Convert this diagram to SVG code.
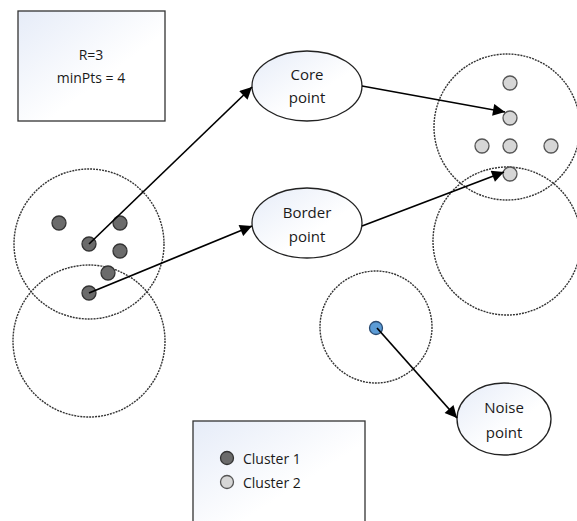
<svg xmlns="http://www.w3.org/2000/svg" width="577" height="521" viewBox="0 0 577 521">
<defs>
<linearGradient id="g" x1="0" y1="0" x2="1" y2="1">
<stop offset="0" stop-color="#e6ecf8"/>
<stop offset="0.6" stop-color="#ffffff"/>
</linearGradient>
<marker id="ah" viewBox="0 0 10 10" refX="10" refY="5" markerWidth="13" markerHeight="12" markerUnits="userSpaceOnUse" orient="auto">
<path d="M0,0 L10,5 L0,10 z" fill="#000"/>
</marker>
</defs>
<style>
.box{fill:url(#g);stroke:#333;stroke-width:1.3}
.ell{fill:url(#g);stroke:#222;stroke-width:1.3}
.rad{fill:none;stroke:#333;stroke-width:1.4;stroke-dasharray:2 1}
.d1{fill:#6b6b6b;stroke:#333;stroke-width:1.3}
.d2{fill:#d6d6d6;stroke:#555;stroke-width:1.3}
.t{font-family:"Open Sans","Liberation Sans",sans-serif;font-size:14px;fill:#1a1a1a;text-anchor:middle}
.te{font-family:"Open Sans","Liberation Sans",sans-serif;font-size:15px;fill:#1a1a1a;text-anchor:middle}
.tl{font-family:"Open Sans","Liberation Sans",sans-serif;font-size:14px;fill:#1a1a1a}
.c{stroke:#000;stroke-width:1.7;fill:none;marker-end:url(#ah)}
</style>
<rect width="577" height="521" fill="#fff"/>
<g id="params">
<rect class="box" x="18" y="11" width="147" height="110"/>
<text class="t" x="91" y="60">R=3</text>
<text class="t" x="91" y="83">minPts = 4</text>
</g>
<g id="radii">
<circle class="rad" cx="89" cy="244" r="75"/>
<circle class="rad" cx="89" cy="341" r="76"/>
<circle class="rad" cx="507" cy="127" r="73"/>
<circle class="rad" cx="507" cy="241" r="74"/>
<circle class="rad" cx="376" cy="327" r="56"/>
</g>
<g id="cluster1">
<circle class="d1" cx="59" cy="223" r="7"/>
<circle class="d1" cx="120" cy="223" r="7"/>
<circle class="d1" cx="89" cy="244" r="7"/>
<circle class="d1" cx="120" cy="251" r="7"/>
<circle class="d1" cx="108" cy="273" r="7"/>
<circle class="d1" cx="89" cy="293" r="7"/>
</g>
<g id="cluster2">
<circle class="d2" cx="510" cy="83" r="7"/>
<circle class="d2" cx="510" cy="118" r="7"/>
<circle class="d2" cx="482" cy="146" r="7"/>
<circle class="d2" cx="510" cy="146" r="7"/>
<circle class="d2" cx="551" cy="146" r="7"/>
<circle class="d2" cx="510" cy="174" r="7"/>
</g>
<g id="noise-dot">
<circle cx="376" cy="328" r="6.5" fill="#5b9bd5" stroke="#2a4a70" stroke-width="1.3"/>
</g>
<g id="core">
<ellipse class="ell" cx="307" cy="86" rx="55" ry="35"/>
<text class="te" x="307" y="80">Core</text>
<text class="te" x="307" y="103">point</text>
</g>
<g id="border">
<ellipse class="ell" cx="307" cy="223" rx="55" ry="35"/>
<text class="te" x="307" y="218">Border</text>
<text class="te" x="307" y="242">point</text>
</g>
<g id="noise">
<ellipse class="ell" cx="504" cy="419" rx="47" ry="36"/>
<text class="te" x="504" y="413">Noise</text>
<text class="te" x="504" y="438">point</text>
</g>
<g id="legend">
<rect class="box" x="193" y="421" width="172" height="110"/>
<circle class="d1" cx="227" cy="458" r="6.5"/>
<circle class="d2" cx="227" cy="482" r="6.5"/>
<text class="tl" x="243" y="464">Cluster 1</text>
<text class="tl" x="243" y="488">Cluster 2</text>
</g>
<g id="connectors">
<line class="c" x1="89" y1="244" x2="252" y2="87"/>
<line class="c" x1="89" y1="293" x2="252" y2="226"/>
<line class="c" x1="362" y1="86" x2="505" y2="112"/>
<line class="c" x1="362" y1="226" x2="504" y2="172"/>
<line class="c" x1="377" y1="328" x2="457" y2="418"/>
</g>
</svg>
